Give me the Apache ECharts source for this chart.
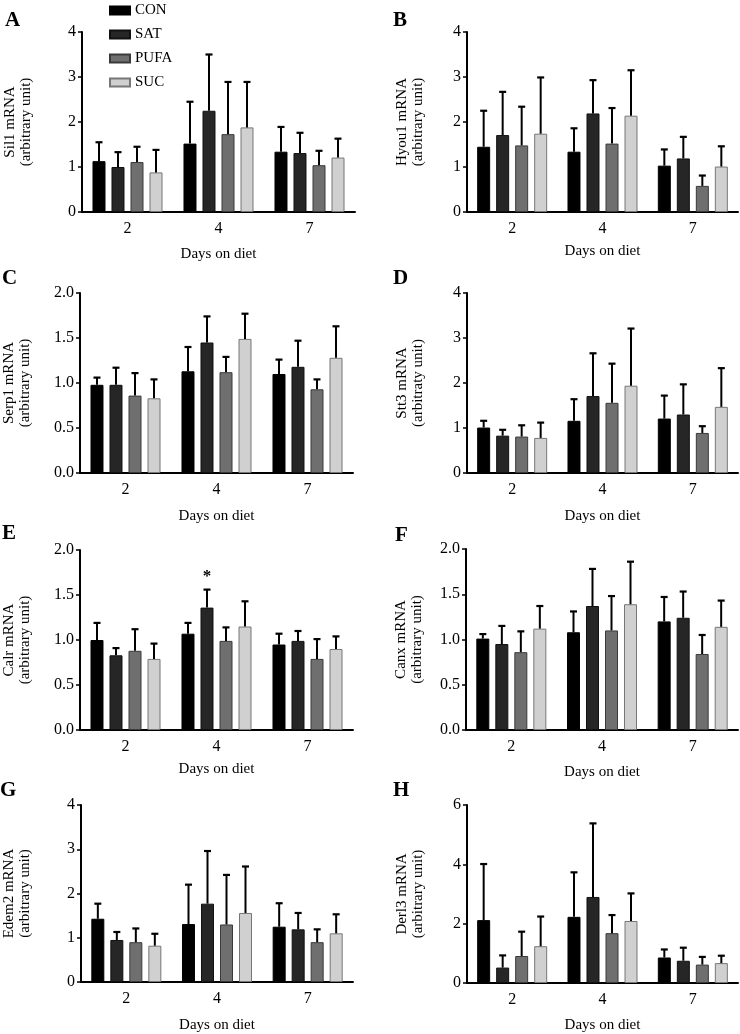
<!DOCTYPE html>
<html><head><meta charset="utf-8">
<script src="https://cdn.jsdelivr.net/npm/echarts@6/dist/echarts.min.js"></script>
<style>html,body{margin:0;padding:0;background:#fff}#c{width:740px;height:1034px}</style>
</head><body><div id="c"></div>
<script>
// ---- data ----
const groups = ['CON', 'SAT', 'PUFA', 'SUC'];
const days = ['2', '4', '7'];
const yAxisLabelsPanels = ['Sil1 mRNA', 'Hyou1 mRNA', 'Serp1 mRNA', 'Stt3 mRNA', 'Calr mRNA', 'Canx mRNA', 'Edem2 mRNA', 'Derl3 mRNA'];
const xAxisTitle = 'Days on diet';

// rows: CON, SAT, PUFA, SUC ; columns: day 2, 4, 7
const sil1Mean  = [[1.13, 1.52, 1.34], [1.00, 2.25, 1.31], [1.11, 1.73, 1.04], [0.88, 1.88, 1.21]];
const sil1Upper = [[1.55, 2.45, 1.89], [1.33, 3.50, 1.76], [1.45, 2.89, 1.36], [1.38, 2.89, 1.63]];

const hyou1Mean  = [[1.45, 1.34, 1.03], [1.71, 2.19, 1.19], [1.48, 1.52, 0.58], [1.74, 2.14, 1.01]];
const hyou1Upper = [[2.25, 1.86, 1.39], [2.67, 2.93, 1.67], [2.34, 2.31, 0.81], [2.99, 3.15, 1.46]];

const serp1Mean  = [[0.98, 1.13, 1.10], [0.98, 1.45, 1.18], [0.86, 1.12, 0.93], [0.83, 1.49, 1.28]];
const serp1Upper = [[1.06, 1.40, 1.26], [1.17, 1.74, 1.47], [1.11, 1.29, 1.04], [1.04, 1.77, 1.63]];

const stt3Mean  = [[1.01, 1.16, 1.21], [0.83, 1.71, 1.30], [0.81, 1.56, 0.89], [0.78, 1.94, 1.47]];
const stt3Upper = [[1.16, 1.64, 1.72], [0.96, 2.66, 1.97], [1.06, 2.43, 1.04], [1.12, 3.21, 2.33]];

const calrMean  = [[1.00, 1.07, 0.95], [0.83, 1.36, 0.99], [0.88, 0.99, 0.79], [0.79, 1.15, 0.90]];
const calrUpper = [[1.19, 1.19, 1.07], [0.91, 1.56, 1.10], [1.12, 1.14, 1.01], [0.96, 1.43, 1.04]];

const canxMean  = [[1.01, 1.08, 1.20], [0.95, 1.37, 1.24], [0.86, 1.10, 0.84], [1.12, 1.39, 1.14]];
const canxUpper = [[1.06, 1.31, 1.47], [1.15, 1.78, 1.53], [1.09, 1.48, 1.05], [1.37, 1.86, 1.43]];

const edem2Mean  = [[1.43, 1.31, 1.25], [0.95, 1.77, 1.19], [0.90, 1.30, 0.90], [0.82, 1.56, 1.10]];
const edem2Upper = [[1.77, 2.20, 1.78], [1.13, 2.96, 1.56], [1.21, 2.42, 1.19], [1.09, 2.61, 1.53]];

const derl3Mean  = [[2.12, 2.23, 0.86], [0.52, 2.90, 0.75], [0.91, 1.68, 0.62], [1.24, 2.09, 0.67]];
const derl3Upper = [[4.01, 3.73, 1.13], [0.93, 5.38, 1.19], [1.73, 2.29, 0.88], [2.24, 3.02, 0.92]];

// significance mark in panel E: [day index, group index, marker]
const calrSig = [[1, 1, '*']];

// ---- layout / style ----
const FONT = '"Liberation Serif", "Times New Roman", serif';
const colors = ['#000000', '#262626', '#6f6f6f', '#d0d0d0'];
const borders = ['#000000', '#111111', '#3a3a3a', '#777777'];
const BAR_W = 13, BAR_GAP = 6, CAP = 7;

const panels = [
  {letter: 'A', yName: yAxisLabelsPanels[0] + '\n(arbitrary unit)', mean: sil1Mean, upper: sil1Upper, max: 4, interval: 1, dec: 0,
   left: 82, right: 355, top: 32, bottom: 212, lx: 5, ly: 10, nameGap: 48, xNameGap: 35},
  {letter: 'B', yName: yAxisLabelsPanels[1] + '\n(arbitrary unit)', mean: hyou1Mean, upper: hyou1Upper, max: 4, interval: 1, dec: 0,
   left: 467, right: 738, top: 32, bottom: 212, lx: 393, ly: 10, nameGap: 41, xNameGap: 32},
  {letter: 'C', yName: yAxisLabelsPanels[2] + '\n(arbitrary unit)', mean: serp1Mean, upper: serp1Upper, max: 2, interval: 0.5, dec: 1,
   left: 79, right: 353, top: 293, bottom: 473, lx: 2, ly: 268, nameGap: 47, xNameGap: 36},
  {letter: 'D', yName: yAxisLabelsPanels[3] + '\n(arbitraty unit)', mean: stt3Mean, upper: stt3Upper, max: 4, interval: 1, dec: 0,
   left: 467, right: 738, top: 293, bottom: 473, lx: 393, ly: 268, nameGap: 41, xNameGap: 36},
  {letter: 'E', yName: yAxisLabelsPanels[4] + '\n(arbitrary unit)', mean: calrMean, upper: calrUpper, max: 2, interval: 0.5, dec: 1,
   left: 79, right: 353, top: 550, bottom: 730, lx: 2, ly: 523, nameGap: 47, xNameGap: 32, sig: calrSig},
  {letter: 'F', yName: yAxisLabelsPanels[5] + '\n(arbitrary unit)', mean: canxMean, upper: canxUpper, max: 2, interval: 0.5, dec: 1,
   left: 466, right: 738, top: 549, bottom: 730, lx: 395, ly: 525, nameGap: 41, xNameGap: 35},
  {letter: 'G', yName: yAxisLabelsPanels[6] + '\n(arbitrary unit)', mean: edem2Mean, upper: edem2Upper, max: 4, interval: 1, dec: 0,
   left: 80, right: 353, top: 805, bottom: 985, lx: 0, ly: 780, nameGap: 48, xNameGap: 36},
  {letter: 'H', yName: yAxisLabelsPanels[7] + '\n(arbitrary unit)', mean: derl3Mean, upper: derl3Upper, max: 6, interval: 2, dec: 0,
   left: 467, right: 738, top: 805, bottom: 986, lx: 393, ly: 780, nameGap: 41, xNameGap: 35}
];

const grid = [], xAxis = [], yAxis = [], series = [], title = [];
panels.forEach((p, i) => {
  grid.push({left: p.left, top: p.top, width: p.right - p.left, height: p.bottom - p.top, containLabel: false});
  title.push({text: p.letter, left: p.lx, top: p.ly, padding: 0,
    textStyle: {fontFamily: FONT, fontSize: 21, fontWeight: 'bold', color: '#000'}});
  xAxis.push({type: 'category', gridIndex: i, data: days,
    name: xAxisTitle, nameLocation: 'middle', nameGap: p.xNameGap,
    nameTextStyle: {fontFamily: FONT, fontSize: 15, color: '#000'},
    axisLine: {lineStyle: {color: '#000', width: 2}},
    axisTick: {alignWithLabel: true, length: 4, lineStyle: {color: '#000', width: 2}},
    axisLabel: {fontFamily: FONT, fontSize: 16, color: '#000', margin: 9},
    splitLine: {show: false}});
  yAxis.push({type: 'value', gridIndex: i, min: 0, max: p.max, interval: p.interval,
    name: p.yName, nameLocation: 'middle', nameRotate: 90, nameGap: p.nameGap,
    nameTextStyle: {fontFamily: FONT, fontSize: 15, color: '#000', lineHeight: 16},
    axisLine: {show: true, lineStyle: {color: '#000', width: 2}},
    axisTick: {show: true, length: 4, lineStyle: {color: '#000', width: 1.5}},
    axisLabel: {fontFamily: FONT, fontSize: 16, color: '#000', margin: 6,
      formatter: v => v.toFixed(p.dec)},
    splitLine: {show: false}});
  groups.forEach((g, gi) => {
    series.push({type: 'bar', name: g, xAxisIndex: i, yAxisIndex: i, data: p.mean[gi],
      barWidth: BAR_W, barGap: (BAR_GAP / BAR_W * 100).toFixed(1) + '%',
      itemStyle: {color: colors[gi], borderColor: borders[gi], borderWidth: 1},
      silent: true});
  });
  const errData = [];
  groups.forEach((g, gi) => days.forEach((d, di) => errData.push([di, gi, p.mean[gi][di], p.upper[gi][di]])));
  series.push({type: 'custom', xAxisIndex: i, yAxisIndex: i, data: errData, silent: true, z: 3,
    encode: {x: 0, y: [2, 3]},
    renderItem: (params, api) => {
      const di = api.value(0), gi = api.value(1);
      const p0 = api.coord([di, api.value(2)]);
      const p1 = api.coord([di, api.value(3)]);
      const x = p0[0] + (gi - 1.5) * (BAR_W + BAR_GAP);
      return {type: 'group', children: [
        {type: 'line', shape: {x1: x, y1: p0[1], x2: x, y2: p1[1]}, style: {stroke: '#000', lineWidth: 2}},
        {type: 'line', shape: {x1: x - CAP / 2, y1: p1[1], x2: x + CAP / 2, y2: p1[1]}, style: {stroke: '#000', lineWidth: 2.2}}
      ]};
    }});
  if (p.sig) {
    const sigData = p.sig.map(s => [s[0], s[1], p.upper[s[1]][s[0]], s[2]]);
    series.push({type: 'custom', xAxisIndex: i, yAxisIndex: i, data: sigData, silent: true, z: 4,
      encode: {x: 0, y: 2},
      renderItem: (params, api) => {
        const di = api.value(0), gi = api.value(1);
        const pt = api.coord([di, api.value(2)]);
        const x = pt[0] + (gi - 1.5) * (BAR_W + BAR_GAP);
        return {type: 'text', style: {text: sigData[params.dataIndex][3], x: x, y: pt[1] - 4,
          align: 'center', verticalAlign: 'bottom', fontFamily: FONT, fontSize: 17, fontWeight: 'bold', fill: '#000'}};
      }});
  }
});

const chart = echarts.init(document.getElementById('c'), null, {renderer: 'canvas'});
chart.setOption({
  animation: false,
  backgroundColor: '#fff',
  title: title,
  legend: {data: groups, orient: 'vertical', left: 104, top: -2, itemWidth: 20, itemHeight: 8, itemGap: 9,
    icon: 'rect', selectedMode: false,
    textStyle: {fontFamily: FONT, fontSize: 15, color: '#000'}},
  grid: grid, xAxis: xAxis, yAxis: yAxis, series: series
});
</script></body></html>
